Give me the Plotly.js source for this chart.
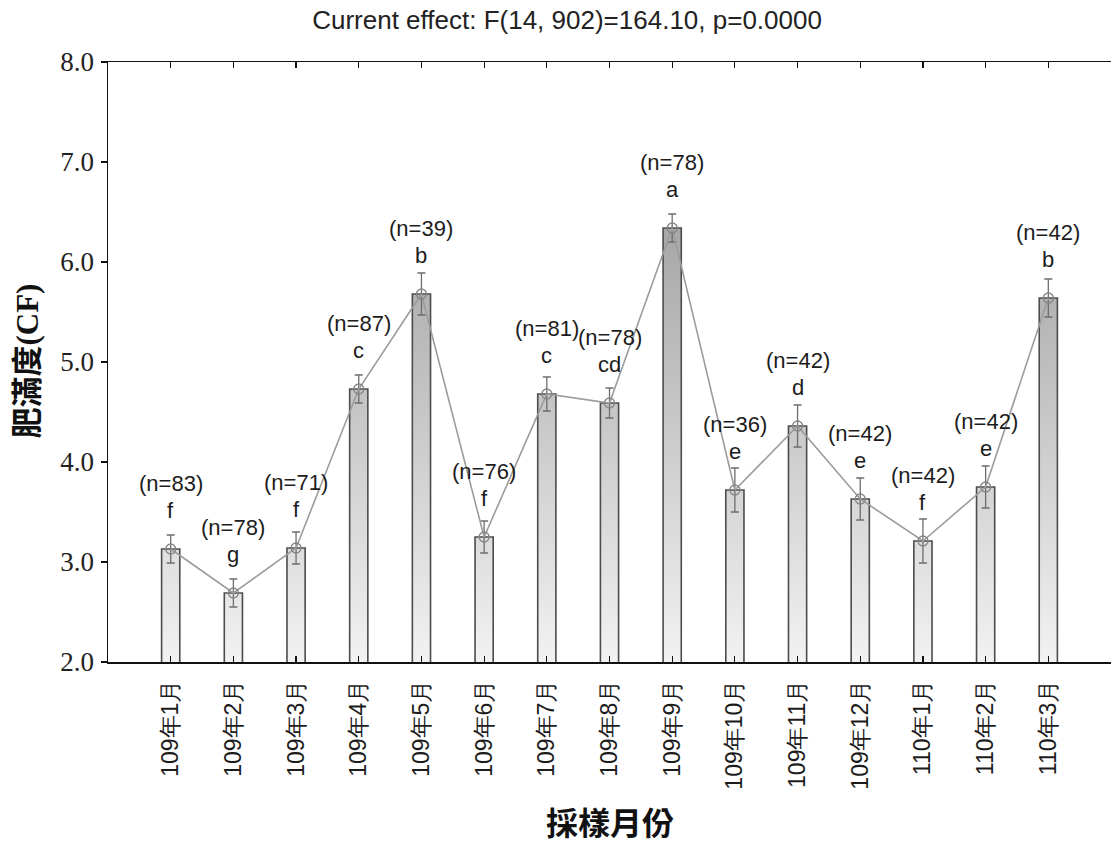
<!DOCTYPE html>
<html>
<head>
<meta charset="utf-8">
<script src="https://cdn.plot.ly/plotly-3.0.1.min.js"></script>
<style>
  html, body { margin: 0; padding: 0; background: #fff; }
  #chart { width: 1111px; height: 841px; }
</style>
</head>
<body>
<div id="chart"></div>
<script>
// Sampling months (ROC calendar years 109-110)
const months = ['109年1月', '109年2月', '109年3月', '109年4月', '109年5月',
                '109年6月', '109年7月', '109年8月', '109年9月', '109年10月',
                '109年11月', '109年12月', '110年1月', '110年2月', '110年3月'];
// Mean condition factor (CF) per month
const meanCF = [3.13, 2.69, 3.14, 4.73, 5.68, 3.25, 4.68, 4.59, 6.34, 3.72,
                4.36, 3.63, 3.21, 3.75, 5.64];
// Half-width of the interval drawn around each mean
const errCF = [0.14, 0.14, 0.16, 0.14, 0.21, 0.16, 0.17, 0.15, 0.14, 0.22,
               0.21, 0.21, 0.22, 0.21, 0.19];
// Post-hoc grouping letters
const groups = ['f', 'g', 'f', 'c', 'b', 'f', 'c', 'cd', 'a', 'e', 'd', 'e', 'f', 'e', 'b'];
// Sample sizes
const sampleN = [83, 78, 71, 87, 39, 76, 81, 78, 78, 36, 42, 42, 42, 42, 42];

const yTicks = [2, 3, 4, 5, 6, 7, 8];

const labelFont = { family: 'Liberation Sans, Arial, sans-serif', size: 22, color: '#1c1c1c' };

const barTrace = {
  type: 'bar',
  x: months,
  y: meanCF,
  width: 0.29,
  marker: { color: '#d0d0d0', line: { color: '#4c4c4c', width: 1.6 } },
  hoverinfo: 'skip'
};

const meanTrace = {
  type: 'scatter',
  mode: 'lines+markers',
  x: months,
  y: meanCF,
  line: { color: '#9c9c9c', width: 1.6 },
  marker: { symbol: 'circle-open', size: 10, color: '#858585', line: { width: 1.3 } },
  error_y: { type: 'data', array: errCF, visible: true, color: '#6e6e6e', thickness: 1.3, width: 4 },
  hoverinfo: 'skip'
};

const annotations = [];
months.forEach((m, i) => {
  annotations.push({
    x: m, y: meanCF[i], xref: 'x', yref: 'y',
    text: groups[i], showarrow: false, yshift: 39, font: labelFont
  });
  annotations.push({
    x: m, y: meanCF[i], xref: 'x', yref: 'y',
    text: '(n=' + sampleN[i] + ')', showarrow: false, yshift: 66, font: labelFont
  });
});

// Axis titles
annotations.push({
  xref: 'paper', yref: 'paper', x: 0.5, y: -0.27, yanchor: 'middle',
  text: '<b>採樣月份</b>', showarrow: false,
  font: { family: 'Liberation Serif, Noto Sans CJK TC, serif', size: 32, color: '#111' }
});
annotations.push({
  xref: 'paper', yref: 'paper', x: -0.08, y: 0.502, xanchor: 'center', yanchor: 'middle',
  textangle: -90,
  text: '<b>肥滿度(CF)</b>', showarrow: false,
  font: { family: 'Liberation Serif, Noto Sans CJK TC, serif', size: 31, color: '#111' }
});

const layout = {
  width: 1111,
  height: 841,
  margin: { l: 108, r: 0, t: 62, b: 179 },
  paper_bgcolor: '#ffffff',
  plot_bgcolor: '#ffffff',
  showlegend: false,
  title: {
    text: 'Current effect: F(14, 902)=164.10, p=0.0000',
    font: { family: 'Liberation Sans Narrow, Liberation Sans, sans-serif', size: 26, color: '#222' },
    x: 0.5104, xref: 'container', xanchor: 'center',
    y: 0.976, yref: 'container', yanchor: 'middle'
  },
  xaxis: {
    type: 'category',
    range: [-1, 15],
    showgrid: false,
    zeroline: false,
    showline: true,
    linecolor: '#111',
    linewidth: 1.5,
    mirror: 'ticks',
    ticks: 'inside',
    ticklen: 6,
    tickwidth: 1.2,
    tickcolor: '#111',
    tickangle: -90,
    ticklabelstandoff: 7,
    tickfont: { family: 'Liberation Sans, Arial, sans-serif', size: 23, color: '#1c1c1c' }
  },
  yaxis: {
    range: [2, 8],
    tickvals: yTicks,
    tickformat: '.1f',
    showgrid: false,
    zeroline: false,
    showline: true,
    linecolor: '#111',
    linewidth: 1.5,
    ticks: 'outside',
    ticklen: 6,
    tickwidth: 1.2,
    tickcolor: '#111',
    ticklabelstandoff: 1,
    tickfont: { family: 'Liberation Serif, Times New Roman, serif', size: 27, color: '#222' }
  },
  yaxis2: {
    overlaying: 'y',
    side: 'right',
    range: [0, 10],
    dtick: 1,
    showgrid: false,
    zeroline: false,
    showline: false,
    ticks: 'inside',
    ticklen: 8,
    tickwidth: 1.2,
    tickcolor: '#111',
    showticklabels: false
  },
  annotations: annotations
};

const gd = document.getElementById('chart');

// Vertical shading for the bars: darker toward the top of the value range
function shadeBars() {
  const svg = gd.querySelector('svg.main-svg');
  const ns = 'http://www.w3.org/2000/svg';
  let defs = svg.querySelector('defs');
  if (!defs) { defs = document.createElementNS(ns, 'defs'); svg.insertBefore(defs, svg.firstChild); }
  const h = gd._fullLayout._size.h;
  const grad = document.createElementNS(ns, 'linearGradient');
  grad.setAttribute('id', 'barShade');
  grad.setAttribute('gradientUnits', 'userSpaceOnUse');
  grad.setAttribute('x1', 0); grad.setAttribute('y1', 0);
  grad.setAttribute('x2', 0); grad.setAttribute('y2', h);
  [[0, '#8a8a8a'], [1, '#f2f2f2']].forEach(([o, c]) => {
    const s = document.createElementNS(ns, 'stop');
    s.setAttribute('offset', o);
    s.setAttribute('stop-color', c);
    grad.appendChild(s);
  });
  defs.appendChild(grad);
  gd.querySelectorAll('.barlayer .point path').forEach(p => { p.style.fill = 'url(#barShade)'; });
}

Plotly.newPlot(gd, [barTrace, meanTrace], layout, { staticPlot: true, displayModeBar: false })
  .then(shadeBars);
</script>
</body>
</html>
